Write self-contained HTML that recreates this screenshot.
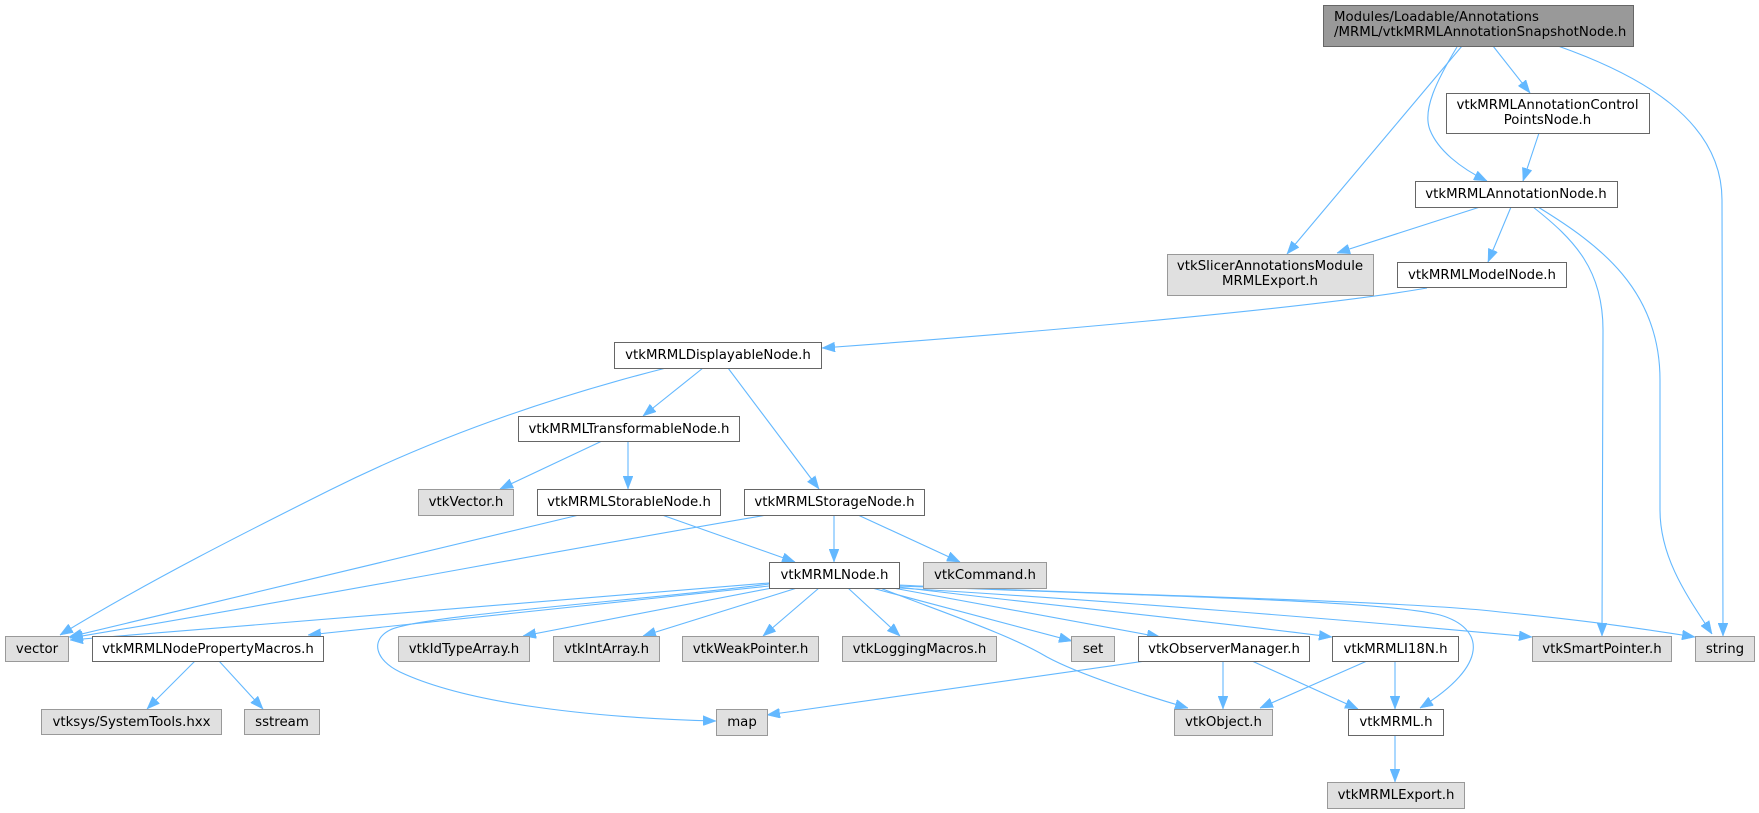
<!DOCTYPE html>
<html><head><meta charset="utf-8"><style>
html,body{margin:0;padding:0;background:#fff;}
svg{display:block;}
text{font-family:"DejaVu Sans","Liberation Sans",sans-serif;font-size:13.33px;fill:#000;}
.w{fill:#fff;stroke:#666;stroke-width:1;}
.g{fill:#e0e0e0;stroke:#999;stroke-width:1;}
.r{fill:#999;stroke:#666;stroke-width:1;}
.e{fill:none;stroke:#63b8ff;stroke-width:1.1;marker-end:url(#a);}
</style></head><body>
<svg width="1759" height="813" viewBox="0 0 1759 813" xmlns="http://www.w3.org/2000/svg">
<defs>
<marker id="a" markerUnits="userSpaceOnUse" markerWidth="13" markerHeight="10" refX="13" refY="5" orient="auto">
<path d="M0,0 L13,5 L0,10 z" fill="#63b8ff" stroke="#63b8ff" stroke-width="0.5"/>
</marker>
</defs>

<!-- edges -->
<path class="e" d="M1462,46 L1287,254"/>
<path class="e" d="M1457,47 C1437,80 1422,110 1430,130 C1438,150 1460,168 1487,181"/>
<path class="e" d="M1493,46 L1530,93"/>
<path class="e" d="M1558,46 C1640,75 1722,120 1722,200 L1723,636"/>
<path class="e" d="M1539,133 L1523,181"/>
<path class="e" d="M1480,207 L1337,253"/>
<path class="e" d="M1511,207 L1488,262"/>
<path class="e" d="M1533,207 C1575,240 1603,270 1603,330 L1602,636"/>
<path class="e" d="M1538,207 C1600,245 1660,290 1660,380 L1660,510 C1660,560 1690,600 1712,634"/>
<path class="e" d="M1427,288 C1300,310 1000,335 822,348"/>
<path class="e" d="M666,368 C540,400 430,440 330,490 C250,530 150,580 60,635"/>
<path class="e" d="M703,368 L643,416"/>
<path class="e" d="M728,368 L819,489"/>
<path class="e" d="M602,441 L500,489"/>
<path class="e" d="M628,441 L628,489"/>
<path class="e" d="M579,515 L69,637"/>
<path class="e" d="M662,515 L795,562"/>
<path class="e" d="M767,515 C560,550 300,600 70,638"/>
<path class="e" d="M834,515 L834,562"/>
<path class="e" d="M858,515 L960,562"/>
<path class="e" d="M769,583 L70,640"/>
<path class="e" d="M769,586 L308,635"/>
<path class="e" d="M769,584 C650,600 420,615 390,630 C370,640 375,660 400,672 C470,705 600,718 716,721"/>
<path class="e" d="M772,588 L523,636"/>
<path class="e" d="M797,588 L643,636"/>
<path class="e" d="M819,588 L763,636"/>
<path class="e" d="M848,588 L900,636"/>
<path class="e" d="M872,588 L1072,641"/>
<path class="e" d="M880,588 C950,615 1010,635 1047,657 C1080,675 1150,697 1188,708"/>
<path class="e" d="M893,588 L1160,637"/>
<path class="e" d="M899,587 C1000,600 1200,620 1332,637"/>
<path class="e" d="M899,585 C1100,595 1400,600 1500,612 C1600,622 1650,630 1695,637"/>
<path class="e" d="M899,586 C1150,596 1380,600 1440,615 C1485,628 1490,665 1420,708"/>
<path class="e" d="M899,588 C1100,600 1350,620 1532,637"/>
<path class="e" d="M1145,661 L767,715"/>
<path class="e" d="M1223,661 L1223,709"/>
<path class="e" d="M1252,661 L1358,709"/>
<path class="e" d="M1367,661 L1260,708"/>
<path class="e" d="M1395,661 L1395,709"/>
<path class="e" d="M1395,735 L1395,782"/>
<path class="e" d="M195,661 L147,709"/>
<path class="e" d="M219,661 L263,709"/>

<!-- nodes -->
<rect class="r" x="1323.5" y="5.5" width="310" height="41"/>
<text x="1334" y="21">Modules/Loadable/Annotations</text>
<text x="1334" y="36">/MRML/vtkMRMLAnnotationSnapshotNode.h</text>

<rect class="w" x="1446.5" y="93.5" width="203" height="40"/>
<text x="1547.5" y="109" text-anchor="middle">vtkMRMLAnnotationControl</text>
<text x="1547.5" y="124" text-anchor="middle">PointsNode.h</text>

<rect class="w" x="1415.5" y="181.5" width="202" height="26"/>
<text x="1516" y="198" text-anchor="middle">vtkMRMLAnnotationNode.h</text>

<rect class="g" x="1167.5" y="254.5" width="206" height="41"/>
<text x="1270" y="270" text-anchor="middle">vtkSlicerAnnotationsModule</text>
<text x="1270" y="285" text-anchor="middle">MRMLExport.h</text>

<rect class="w" x="1397.5" y="262.5" width="169" height="25"/>
<text x="1482" y="279" text-anchor="middle">vtkMRMLModelNode.h</text>

<rect class="w" x="614.5" y="342.5" width="207" height="26"/>
<text x="718" y="359" text-anchor="middle">vtkMRMLDisplayableNode.h</text>

<rect class="w" x="518.5" y="416.5" width="221" height="25"/>
<text x="629" y="433" text-anchor="middle">vtkMRMLTransformableNode.h</text>

<rect class="g" x="418.5" y="489.5" width="95" height="26"/>
<text x="466" y="506" text-anchor="middle">vtkVector.h</text>

<rect class="w" x="537.5" y="489.5" width="183" height="26"/>
<text x="629" y="506" text-anchor="middle">vtkMRMLStorableNode.h</text>

<rect class="w" x="744.5" y="489.5" width="180" height="26"/>
<text x="834.5" y="506" text-anchor="middle">vtkMRMLStorageNode.h</text>

<rect class="w" x="769.5" y="562.5" width="130" height="26"/>
<text x="834.5" y="579" text-anchor="middle">vtkMRMLNode.h</text>

<rect class="g" x="923.5" y="562.5" width="123" height="26"/>
<text x="985" y="579" text-anchor="middle">vtkCommand.h</text>

<rect class="g" x="5.5" y="636.5" width="63" height="25"/>
<text x="37" y="653" text-anchor="middle">vector</text>

<rect class="w" x="92.5" y="636.5" width="231" height="25"/>
<text x="208" y="653" text-anchor="middle">vtkMRMLNodePropertyMacros.h</text>

<rect class="g" x="398.5" y="636.5" width="131" height="25"/>
<text x="464" y="653" text-anchor="middle">vtkIdTypeArray.h</text>

<rect class="g" x="553.5" y="636.5" width="106" height="25"/>
<text x="606.5" y="653" text-anchor="middle">vtkIntArray.h</text>

<rect class="g" x="682.5" y="636.5" width="136" height="25"/>
<text x="750.5" y="653" text-anchor="middle">vtkWeakPointer.h</text>

<rect class="g" x="842.5" y="636.5" width="154" height="25"/>
<text x="919.5" y="653" text-anchor="middle">vtkLoggingMacros.h</text>

<rect class="g" x="1071.5" y="636.5" width="43" height="25"/>
<text x="1093" y="653" text-anchor="middle">set</text>

<rect class="w" x="1138.5" y="636.5" width="171" height="25"/>
<text x="1224" y="653" text-anchor="middle">vtkObserverManager.h</text>

<rect class="w" x="1332.5" y="636.5" width="126" height="25"/>
<text x="1395.5" y="653" text-anchor="middle">vtkMRMLI18N.h</text>

<rect class="g" x="1532.5" y="636.5" width="139" height="25"/>
<text x="1602" y="653" text-anchor="middle">vtkSmartPointer.h</text>

<rect class="g" x="1695.5" y="636.5" width="59" height="25"/>
<text x="1725" y="653" text-anchor="middle">string</text>

<rect class="g" x="41.5" y="709.5" width="180" height="25"/>
<text x="131.5" y="726" text-anchor="middle">vtksys/SystemTools.hxx</text>

<rect class="g" x="244.5" y="709.5" width="75" height="25"/>
<text x="282" y="726" text-anchor="middle">sstream</text>

<rect class="g" x="716.5" y="709.5" width="51" height="26"/>
<text x="742" y="726" text-anchor="middle">map</text>

<rect class="g" x="1174.5" y="709.5" width="98" height="26"/>
<text x="1223.5" y="726" text-anchor="middle">vtkObject.h</text>

<rect class="w" x="1348.5" y="709.5" width="95" height="26"/>
<text x="1396" y="726" text-anchor="middle">vtkMRML.h</text>

<rect class="g" x="1327.5" y="782.5" width="137" height="26"/>
<text x="1396" y="799" text-anchor="middle">vtkMRMLExport.h</text>
</svg>
</body></html>
